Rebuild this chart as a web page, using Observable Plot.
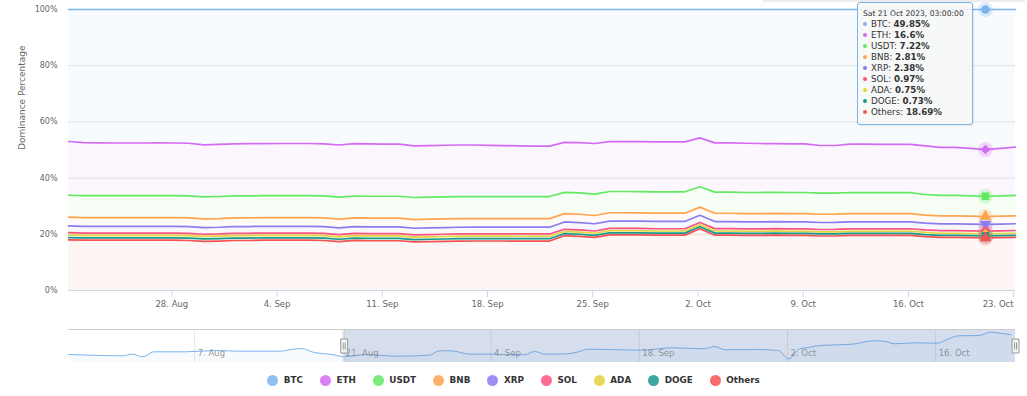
<!DOCTYPE html>
<html><head><meta charset="utf-8">
<script src="https://cdn.jsdelivr.net/npm/d3@7"></script>
<script src="https://cdn.jsdelivr.net/npm/@observablehq/plot@0.6"></script>
<style>
body{margin:0;background:#fff;font-family:"DejaVu Sans",sans-serif;}
#wrap{position:relative;width:1027px;height:396px;overflow:hidden;background:#fff;}
#main,#nav{position:absolute;left:0;}
#main{top:0}
#nav{top:310px}
#legend{position:absolute;top:374px;left:0;width:1027px;display:flex;justify-content:center;gap:17px;font-size:8.8px;font-weight:bold;color:#333;}
#legend .it{display:flex;align-items:center;height:12px;}
#legend .sw{width:11px;height:11px;border-radius:50%;margin-right:5.5px;}
#tip{position:absolute;left:857px;top:2px;width:116px;height:123px;box-sizing:border-box;border:1px solid #7cb5ec;border-radius:3px;background:rgba(247,247,247,0.88);padding:6px 0 0 5px;color:#333;box-shadow:1px 1px 2px rgba(0,0,0,0.08);}
#tip .hd{font-size:7.6px;line-height:10px;height:10px;}
#tip .rw{font-size:8.7px;line-height:11px;height:11px;white-space:nowrap;}
#tip .bl{display:inline-block;width:4px;height:4px;border-radius:50%;margin-right:4px;vertical-align:middle;position:relative;top:-1px;}
#topbar{position:absolute;left:763px;top:0;width:262px;height:2px;background:#ececec;}
</style></head>
<body><div id="wrap"><div id="topbar"></div><div id="main"></div><div id="nav"></div><div id="tip"></div><div id="legend"></div></div>
<script>
const seriesNames = ["BTC","ETH","USDT","BNB","XRP","SOL","ADA","DOGE","Others"];
const seriesColors = ["#7cb5ec","#d36cf2","#62ea62","#ffa34f","#8a7df0","#f8557f","#e3d43c","#18998d","#f55252"];
const markerSymbols = ["circle","diamond2","square","triangle","triangle","circle","diamond2","square","triangle"];

const dates = ["2023-08-21","2023-08-22","2023-08-23","2023-08-24","2023-08-25","2023-08-26","2023-08-27","2023-08-28","2023-08-29","2023-08-30","2023-08-31",
"2023-09-01","2023-09-02","2023-09-03","2023-09-04","2023-09-05","2023-09-06","2023-09-07","2023-09-08","2023-09-09","2023-09-10",
"2023-09-11","2023-09-12","2023-09-13","2023-09-14","2023-09-15","2023-09-16","2023-09-17","2023-09-18","2023-09-19","2023-09-20",
"2023-09-21","2023-09-22","2023-09-23","2023-09-24","2023-09-25","2023-09-26","2023-09-27","2023-09-28","2023-09-29","2023-09-30",
"2023-10-01","2023-10-02","2023-10-03","2023-10-04","2023-10-05","2023-10-06","2023-10-07","2023-10-08","2023-10-09","2023-10-10",
"2023-10-11","2023-10-12","2023-10-13","2023-10-14","2023-10-15","2023-10-16","2023-10-17","2023-10-18","2023-10-19","2023-10-20",
"2023-10-21","2023-10-22","2023-10-23"];

const btc = [47.0,47.4,47.5,47.5,47.5,47.5,47.5,47.5,47.6,48.2,48.0,47.8,47.7,47.7,47.7,47.7,47.7,47.8,48.2,47.7,47.8,47.9,47.9,48.5,48.4,48.3,48.2,48.2,48.3,48.4,48.5,48.6,48.6,47.3,47.4,47.7,47.0,47.0,47.0,47.1,47.1,47.1,45.7,47.5,47.5,47.6,47.7,47.7,47.8,47.8,48.4,48.4,47.9,47.9,48.0,48.0,48.0,48.6,49.1,49.1,49.4,49.85,49.4,49.0];
const eth = [19.15,18.85,18.75,18.75,18.75,18.75,18.75,18.75,18.75,18.45,18.55,18.55,18.65,18.55,18.55,18.55,18.55,18.55,18.55,18.65,18.65,18.55,18.55,18.35,18.35,18.35,18.35,18.35,18.25,18.15,18.05,17.95,17.95,17.78,17.88,17.98,17.78,17.78,17.78,17.78,17.78,17.78,17.38,17.53,17.53,17.53,17.43,17.33,17.33,17.33,16.93,16.93,17.23,17.23,17.13,17.13,17.13,17.3,17.1,17.1,16.9,16.6,16.9,17.2];
const usdt = [7.78,7.80,7.81,7.80,7.79,7.80,7.81,7.80,7.82,7.86,7.84,7.81,7.80,7.79,7.80,7.80,7.81,7.82,7.86,7.80,7.81,7.81,7.82,7.87,7.85,7.83,7.82,7.81,7.81,7.82,7.83,7.83,7.84,7.58,7.60,7.63,7.57,7.58,7.58,7.59,7.59,7.60,7.25,7.52,7.52,7.51,7.51,7.50,7.50,7.50,7.55,7.54,7.49,7.48,7.47,7.46,7.45,7.33,7.28,7.27,7.25,7.22,7.24,7.26];
const bnb = [3.13,3.11,3.10,3.10,3.10,3.10,3.10,3.10,3.09,3.08,3.09,3.10,3.10,3.10,3.11,3.11,3.10,3.10,3.08,3.10,3.10,3.10,3.10,3.07,3.08,3.09,3.09,3.09,3.08,3.08,3.08,3.07,3.07,2.96,2.95,2.94,2.96,2.96,2.95,2.95,2.95,2.95,2.90,2.96,2.96,2.95,2.95,2.95,2.95,2.95,2.93,2.93,2.95,2.95,2.94,2.94,2.93,2.86,2.83,2.83,2.82,2.81,2.82,2.83];
const xrp = [2.42,2.40,2.40,2.40,2.40,2.40,2.40,2.40,2.40,2.38,2.39,2.40,2.40,2.40,2.41,2.41,2.41,2.40,2.38,2.40,2.40,2.40,2.40,2.37,2.38,2.39,2.40,2.40,2.40,2.40,2.40,2.40,2.40,2.60,2.60,2.59,2.61,2.61,2.60,2.60,2.60,2.60,2.55,2.52,2.52,2.51,2.50,2.50,2.50,2.50,2.49,2.49,2.50,2.50,2.49,2.48,2.48,2.42,2.40,2.40,2.39,2.38,2.39,2.40];
const sol = [0.81,0.80,0.80,0.80,0.80,0.80,0.80,0.80,0.80,0.79,0.79,0.80,0.80,0.80,0.80,0.80,0.80,0.80,0.79,0.80,0.80,0.80,0.80,0.78,0.79,0.80,0.80,0.80,0.80,0.80,0.81,0.81,0.81,0.80,0.80,0.80,0.81,0.81,0.81,0.80,0.80,0.80,0.80,0.83,0.84,0.84,0.85,0.85,0.85,0.85,0.85,0.86,0.86,0.86,0.87,0.88,0.89,0.92,0.94,0.95,0.96,0.97,0.97,0.98];
const ada = [0.91,0.90,0.90,0.90,0.90,0.90,0.90,0.90,0.90,0.89,0.89,0.90,0.90,0.90,0.90,0.90,0.90,0.89,0.88,0.89,0.89,0.89,0.89,0.87,0.88,0.88,0.88,0.88,0.88,0.88,0.88,0.88,0.88,0.76,0.76,0.75,0.76,0.76,0.75,0.75,0.75,0.75,0.72,0.76,0.76,0.75,0.75,0.75,0.75,0.75,0.75,0.75,0.75,0.75,0.75,0.75,0.75,0.75,0.75,0.75,0.75,0.75,0.75,0.75];
const doge = [0.86,0.85,0.85,0.85,0.85,0.85,0.85,0.85,0.85,0.84,0.84,0.85,0.85,0.85,0.85,0.85,0.85,0.84,0.83,0.84,0.84,0.84,0.84,0.82,0.83,0.83,0.83,0.83,0.83,0.83,0.83,0.83,0.83,0.73,0.73,0.72,0.73,0.73,0.72,0.72,0.72,0.72,0.70,0.73,0.73,0.72,0.72,0.72,0.72,0.72,0.72,0.72,0.72,0.72,0.72,0.72,0.72,0.73,0.73,0.73,0.73,0.73,0.73,0.73];
const others = [18.0,17.9,17.9,17.9,17.9,17.9,17.9,17.9,17.8,17.5,17.6,17.8,17.8,17.9,17.9,17.9,17.9,17.8,17.4,17.8,17.7,17.7,17.7,17.3,17.4,17.5,17.6,17.6,17.6,17.6,17.6,17.6,17.6,19.5,19.3,18.9,19.8,19.8,19.8,19.7,19.7,19.7,22.0,19.7,19.7,19.6,19.6,19.7,19.6,19.6,19.4,19.4,19.6,19.6,19.6,19.6,19.6,19.2,18.9,18.9,18.8,18.69,18.8,18.9];

const xTicks = ["2023-08-28","2023-09-04","2023-09-11","2023-09-18","2023-09-25","2023-10-02","2023-10-09","2023-10-16","2023-10-23"];
const yTicks = [0,20,40,60,80,100];
const hoverDate = "2023-10-21";
const yTitle = "Dominance Percentage";

// navigator (BTC dominance overview)
const navDates = ["2023-07-26","2023-07-29","2023-07-31","2023-08-01","2023-08-02","2023-08-03","2023-08-06","2023-08-09","2023-08-11","2023-08-15","2023-08-16","2023-08-17","2023-08-18","2023-08-20","2023-08-21","2023-08-23","2023-08-26","2023-08-29","2023-08-30","2023-08-31","2023-09-02","2023-09-04","2023-09-07","2023-09-08","2023-09-09","2023-09-11","2023-09-12","2023-09-13","2023-09-15","2023-09-18","2023-09-21","2023-09-24","2023-09-25","2023-09-26","2023-09-29","2023-10-01","2023-10-02","2023-10-03","2023-10-04","2023-10-05","2023-10-08","2023-10-10","2023-10-11","2023-10-12","2023-10-14","2023-10-16","2023-10-17","2023-10-18","2023-10-20","2023-10-21","2023-10-22","2023-10-23"];
const navBtc = [46.37,46.22,46.17,46.42,46.01,46.79,46.79,47.0,46.89,46.89,47.15,47.31,46.76,46.33,46.01,46.37,46.11,46.26,46.95,46.95,46.42,46.42,46.33,46.84,46.42,46.48,46.73,47.2,47.15,47.04,47.42,47.26,47.62,47.11,47.15,47.0,45.7,47.23,47.51,47.78,47.98,48.51,48.45,48.04,48.2,48.14,48.72,49.29,49.34,49.86,49.7,49.45];
const navTicks = ["2023-08-07","2023-08-21","2023-09-04","2023-09-18","2023-10-02","2023-10-16"];

const seriesValues = {BTC:btc, ETH:eth, USDT:usdt, BNB:bnb, XRP:xrp, SOL:sol, ADA:ada, DOGE:doge, Others:others};
const T = s => new Date(s + "T03:00:00Z");
const D0 = s => new Date(s + "T00:00:00Z");
const rows = [];
seriesNames.forEach(s => dates.forEach((d, j) => rows.push({date: T(d), series: s, value: seriesValues[s][j]})));
const hoverRows = rows.filter(r => +r.date === +T(hoverDate));
const stackOrder = seriesNames.slice().reverse();
const stk = {x: "date", y: "value", z: "series", order: stackOrder, offset: "normalize"};
const font = "DejaVu Sans";
const fmtX = d3.utcFormat("%-d. %b");
const xTickDates = xTicks.map(D0);

const main = Plot.plot({
  width: 1027, height: 310,
  marginLeft: 68, marginRight: 12, marginTop: 9, marginBottom: 20,
  style: {fontFamily: font, fontSize: "8.5px", background: "transparent", overflow: "visible"},
  x: {type: "utc", domain: [T(dates[0]), T(dates[dates.length - 1])]},
  y: {domain: [0, 1]},
  color: {domain: seriesNames, range: seriesColors},
  symbol: {domain: seriesNames, range: markerSymbols},
  marks: [
    Plot.gridY(yTicks.map(v => v / 100), {stroke: "#e6e6e6", strokeOpacity: 1}),
    Plot.areaY(rows, Plot.stackY({...stk, fill: "series", fillOpacity: 0.06})),
    Plot.lineY(rows, Plot.stackY2({...stk, stroke: "series", strokeWidth: 1.7})),
    Plot.ruleY([0], {stroke: "#ccd6eb"}),
    Plot.axisY(yTicks.map(v => v / 100), {tickFormat: v => Math.round(v * 100) + "%", tickSize: 0, tickPadding: 11, fill: "#666", fontSize: 8, label: null}),
    Plot.axisX(xTickDates.slice(0, -1), {tickFormat: fmtX, tickSize: 7, tickPadding: 3, stroke: "#ccd6eb", strokeOpacity: 1, fill: "#666", label: null}),
    Plot.axisX(xTickDates.slice(-1), {tickFormat: fmtX, tickSize: 7, tickPadding: 3, stroke: "#ccd6eb", strokeOpacity: 1, fill: "#666", label: null, textAnchor: "end", dx: 0}),
    Plot.text([yTitle], {frameAnchor: "left", dx: -46, rotate: -90, fill: "#666", fontSize: 9, text: d => d}),
    Plot.dot(hoverRows, Plot.stackY2({...stk, fill: "series", fillOpacity: 0.25, r: 7.5, symbol: "circle"})),
    Plot.dot(hoverRows, Plot.stackY2({...stk, fill: "series", symbol: "series", r: 4.3, rotate: d => d.series === "XRP" ? 180 : 0}))
  ]
});
document.getElementById("main").appendChild(main);

// navigator
const navRows = navDates.map((d, i) => ({date: T(d), v: navBtc[i]}));
const navY = [45.12, 50.28];
const navX = [new Date("2023-07-26T02:00:00Z"), new Date("2023-10-23T13:00:00Z")];
const handle = {draw(ctx) {
  ctx.moveTo(-3.5, -7); ctx.lineTo(3.5, -7); ctx.lineTo(3.5, 7); ctx.lineTo(-3.5, 7); ctx.closePath();
  ctx.moveTo(-1, -3.5); ctx.lineTo(-1, 3.5); ctx.moveTo(1, -3.5); ctx.lineTo(1, 3.5);
}};
const selStart = T(dates[0]);
const nav = Plot.plot({
  width: 1027, height: 56,
  marginLeft: 68, marginRight: 12, marginTop: 19, marginBottom: 4,
  style: {fontFamily: font, fontSize: "8.5px", background: "transparent", overflow: "visible"},
  x: {type: "utc", domain: navX, axis: null},
  y: {domain: navY, axis: null},
  marks: [
    Plot.ruleX(navTicks.map(D0), {stroke: "#e6e6e6", strokeOpacity: 1}),
    Plot.areaY(navRows, {x: "date", y1: navY[0], y2: "v", curve: "monotone-x", fill: "#7cb5ec", fillOpacity: 0.06}),
    Plot.lineY(navRows, {x: "date", y: "v", curve: "monotone-x", stroke: "#7cb5ec", strokeWidth: 1}),
    Plot.rect([0], {x1: () => selStart, x2: () => navX[1], fill: "rgb(102,133,194)", fillOpacity: 0.27}),
    Plot.text(navTicks.map(D0), {x: d => d, text: fmtX, frameAnchor: "bottom", dy: -7, dx: 3, textAnchor: "start", fill: "#888", fillOpacity: 0.9}),
    Plot.ruleY([navY[1]], {stroke: "#cccccc"}),
    Plot.ruleX([selStart], {stroke: "#cccccc"}),
    Plot.dot([selStart, navX[1]], {x: d => d, frameAnchor: "middle", symbol: handle, r: 5, fill: "#f2f2f2", stroke: "#999", strokeWidth: 1, dx: 0})
  ]
});
document.getElementById("nav").appendChild(nav);

// tooltip
const hi = dates.indexOf(hoverDate);
const tip = document.getElementById("tip");
let html = `<div class="hd">${d3.utcFormat("%a %d %b %Y, %H:%M:%S")(T(hoverDate))}</div>`;
seriesNames.forEach((s, i) => {
  html += `<div class="rw"><span class="bl" style="background:${seriesColors[i]}"></span>${s}: <b>${seriesValues[s][hi]}%</b></div>`;
});
tip.innerHTML = html;

// legend
const lg = document.getElementById("legend");
seriesNames.forEach((s, i) => {
  const it = document.createElement("div"); it.className = "it";
  it.innerHTML = `<span class="sw" style="background:${seriesColors[i]};opacity:0.85"></span><span>${s}</span>`;
  lg.appendChild(it);
});
</script></body></html>
